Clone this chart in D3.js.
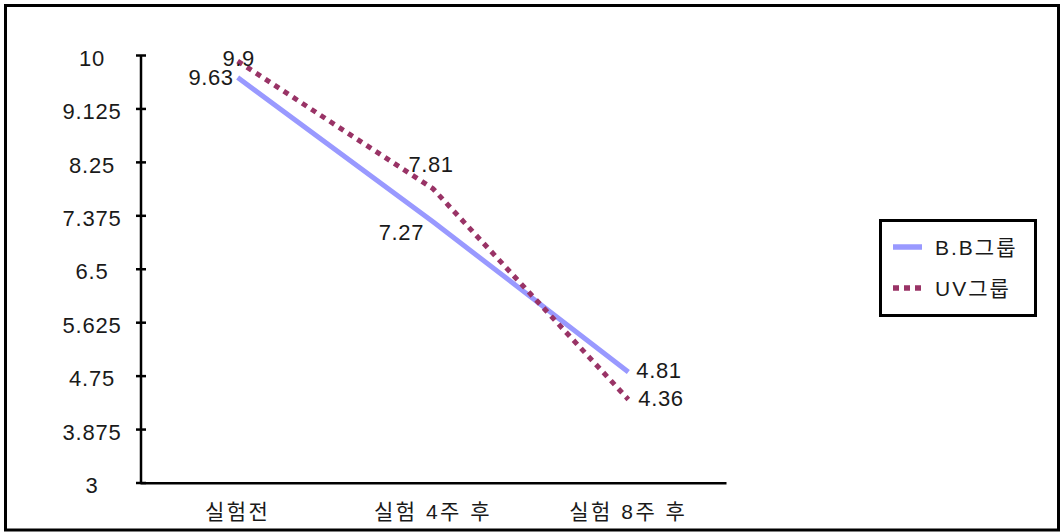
<!DOCTYPE html>
<html>
<head>
<meta charset="utf-8">
<script src="https://cdn.jsdelivr.net/npm/d3@7"></script>
<style>
  html, body { margin: 0; padding: 0; background: #fff; }
  svg text { font-family: "Liberation Sans", "Noto Sans CJK KR", sans-serif; fill: #1a1a1a; }
</style>
</head>
<body>
<svg id="chart" width="1061" height="532"></svg>
<script>
// Measurement periods on the horizontal axis
const categories = ["실험전", "실험 4주 후", "실험 8주 후"];
// Group means at each period
const bbValues = [9.63, 7.27, 4.81];
const uvValues = [9.9, 7.81, 4.36];
const seriesNames = ["B.B그룹", "UV그룹"];
// Vertical axis ticks and their printed labels
const yTickValues = [3, 3.875, 4.75, 5.625, 6.5, 7.375, 8.25, 9.125, 10];
const yTickLabels = ["3", "3.875", "4.75", "5.625", "6.5", "7.375", "8.25", "9.125", "10"];

const svg = d3.select("#chart");

// outer frame
svg.append("rect")
  .attr("x", 5.5).attr("y", 5.5)
  .attr("width", 1053).attr("height", 524.5)
  .attr("fill", "#fff").attr("stroke", "#000").attr("stroke-width", 3);

const x = d3.scaleBand().domain(categories).range([140, 726]).padding(0);
const cx = c => x(c) + x.bandwidth() / 2;
const y = d3.scaleLinear().domain([3, 10]).range([482.5, 55]);

// y axis with ticks crossing the line
const yAxis = svg.append("g")
  .attr("transform", "translate(140.5,0)")
  .call(d3.axisLeft(y)
    .tickValues(yTickValues)
    .tickFormat((d, i) => yTickLabels[i])
    .tickSizeOuter(0));
yAxis.select(".domain").attr("stroke", "#000").attr("stroke-width", 2.5);
yAxis.selectAll(".tick line")
  .attr("x1", -4.5).attr("x2", 5.5)
  .attr("stroke", "#000").attr("stroke-width", 2.5);
yAxis.selectAll(".tick text")
  .attr("x", -48.5).attr("dy", "0.46em")
  .attr("text-anchor", "middle")
  .style("font-size", "22px")
  .style("letter-spacing", "0.8px")
  .attr("fill", "#1a1a1a");

// x axis baseline and category labels
const xAxis = svg.append("g")
  .attr("transform", "translate(0,482.7)")
  .call(d3.axisBottom(x).tickSize(0).tickSizeOuter(0));
xAxis.select(".domain").attr("stroke", "#000").attr("stroke-width", 2.5);
xAxis.selectAll(".tick text")
  .attr("y", 0).attr("dy", "36px")
  .style("font-size", "21px")
  .style("letter-spacing", "2.5px")
  .attr("fill", "#1a1a1a");

const line = d3.line().x((d, i) => cx(categories[i])).y(d => y(d));

// B.B group: solid lavender line
svg.append("path")
  .datum(bbValues)
  .attr("d", line)
  .attr("fill", "none")
  .attr("stroke", "#9999FF")
  .attr("stroke-width", 5);

// UV group: square-dotted plum line
svg.append("path")
  .datum(uvValues)
  .attr("d", line)
  .attr("fill", "none")
  .attr("stroke", "#993366")
  .attr("stroke-width", 5)
  .attr("stroke-dasharray", "5.5,5.5");

// value labels, offsets relative to each point
const bbOffsets = [[-4, 7, "end"], [-9, 18, "end"], [8, 6, "start"]];
const uvOffsets = [[1, 5, "middle"], [-2, -17, "middle"], [10, 7, "start"]];

function addLabels(vals, offs) {
  svg.append("g").selectAll("text")
    .data(vals)
    .join("text")
    .attr("x", (d, i) => cx(categories[i]) + offs[i][0])
    .attr("y", (d, i) => y(d) + offs[i][1])
    .attr("text-anchor", (d, i) => offs[i][2])
    .style("font-size", "22px")
    .style("letter-spacing", "0.6px")
    .text(d => d);
}
addLabels(bbValues, bbOffsets);
addLabels(uvValues, uvOffsets);

// legend
const legend = svg.append("g");
legend.append("rect")
  .attr("x", 880.5).attr("y", 220.5)
  .attr("width", 155).attr("height", 95)
  .attr("fill", "#fff").attr("stroke", "#000").attr("stroke-width", 3);

const legendStyles = [
  { stroke: "#9999FF", dash: null },
  { stroke: "#993366", dash: "6,5" }
];
const legendY = d3.scalePoint().domain(seriesNames).range([247, 288]);

seriesNames.forEach((name, i) => {
  const ly = legendY(name);
  legend.append("line")
    .attr("x1", 893).attr("x2", 922)
    .attr("y1", ly).attr("y2", ly)
    .attr("stroke", legendStyles[i].stroke)
    .attr("stroke-width", 5.5)
    .attr("stroke-dasharray", legendStyles[i].dash);
  legend.append("text")
    .attr("x", 935).attr("y", ly + 8)
    .style("font-size", "21px")
    .style("letter-spacing", "2px")
    .text(name);
});
</script>
</body>
</html>
